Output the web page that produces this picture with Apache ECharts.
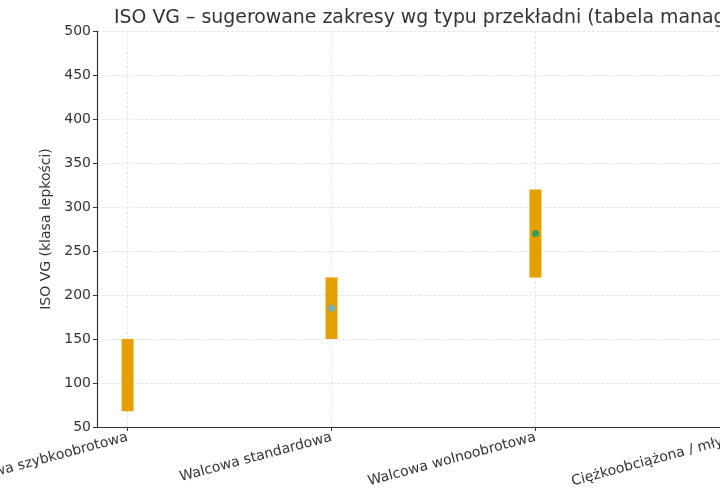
<!DOCTYPE html>
<html>
<head>
<meta charset="utf-8">
<script src="https://cdn.jsdelivr.net/npm/echarts@6/dist/echarts.min.js"></script>
<style>
  html, body { margin: 0; padding: 0; background: #fff; }
  #chart { width: 720px; height: 500px; }
</style>
</head>
<body>
<div id="chart"></div>
<script>
// Gear types and suggested ISO VG ranges
const categories = ['Walcowa szybkoobrotowa', 'Walcowa standardowa', 'Walcowa wolnoobrotowa', 'Ciężkoobciążona / młyny'];
const lowValues = [68, 150, 220, 320];
const highValues = [150, 220, 320, 460];
const midValues = [109, 185, 270, 390];
const dotColors = ['#E69F00', '#56B4E9', '#009E73', '#F0E442'];
const yTicks = [50, 100, 150, 200, 250, 300, 350, 400, 450, 500];

const chart = echarts.init(document.getElementById('chart'));
const font = 'DejaVu Sans';
const positions = categories.map((c, i) => i);

const option = {
    animation: false,
    textStyle: { fontFamily: font },
    title: {
        text: 'ISO VG – sugerowane zakresy wg typu przekładni (tabela managera)',
        left: 109,
        top: 4,
        textStyle: { fontFamily: font, fontSize: 18.9, fontWeight: 'normal', color: '#333' }
    },
    grid: { left: 97, right: -50, top: 31, bottom: 73, outerBoundsMode: 'none', containLabel: false },
    xAxis: {
        type: 'value',
        min: -0.15,
        max: 3.15,
        axisLine: { onZero: false, lineStyle: { color: '#333', width: 1.2 } },
        axisTick: { show: true, customValues: positions, length: 4, inside: false, lineStyle: { color: '#333' } },
        axisLabel: {
            customValues: positions,
            rotate: 15,
            color: '#333',
            fontSize: 14,
            margin: 10,
            formatter: v => categories[Math.round(v)] || ''
        },
        splitLine: { show: false }
    },
    yAxis: {
        type: 'value',
        min: yTicks[0],
        max: yTicks[yTicks.length - 1],
        interval: 50,
        name: 'ISO VG (klasa lepkości)',
        nameLocation: 'middle',
        nameGap: 37,
        nameTextStyle: { fontSize: 14, color: '#333' },
        axisLine: { show: true, onZero: false, lineStyle: { color: '#333', width: 1.2 } },
        axisTick: { show: true, length: 4, lineStyle: { color: '#333' } },
        axisLabel: { color: '#333', fontSize: 14, margin: 6 },
        splitLine: { show: true, lineStyle: { color: '#e0e0e0', type: 'dashed', width: 0.8 } }
    },
    series: [
        {
            // vertical grid lines at category positions
            type: 'custom',
            silent: true,
            z: 0,
            data: positions.map(p => [p]),
            renderItem: (params, api) => {
                const top = api.coord([api.value(0), yTicks[yTicks.length - 1]]);
                const bottom = api.coord([api.value(0), yTicks[0]]);
                return {
                    type: 'line',
                    shape: { x1: top[0], y1: top[1], x2: bottom[0], y2: bottom[1] },
                    style: { stroke: '#dedede', lineWidth: 0.8, lineDash: [3, 2] }
                };
            }
        },
        {
            type: 'custom',
            z: 2,
            data: positions.map(i => [i, lowValues[i], highValues[i]]),
            renderItem: (params, api) => {
                const lo = api.coord([api.value(0), api.value(1)]);
                const hi = api.coord([api.value(0), api.value(2)]);
                const w = 12;
                return {
                    type: 'rect',
                    shape: { x: lo[0] - w / 2, y: hi[1], width: w, height: lo[1] - hi[1] },
                    style: { fill: '#E69F00' }
                };
            }
        },
        {
            type: 'scatter',
            z: 3,
            symbolSize: 7,
            data: positions.map(i => ({ value: [i, midValues[i]], itemStyle: { color: dotColors[i] } }))
        }
    ]
};

chart.setOption(option);
</script>
</body>
</html>
